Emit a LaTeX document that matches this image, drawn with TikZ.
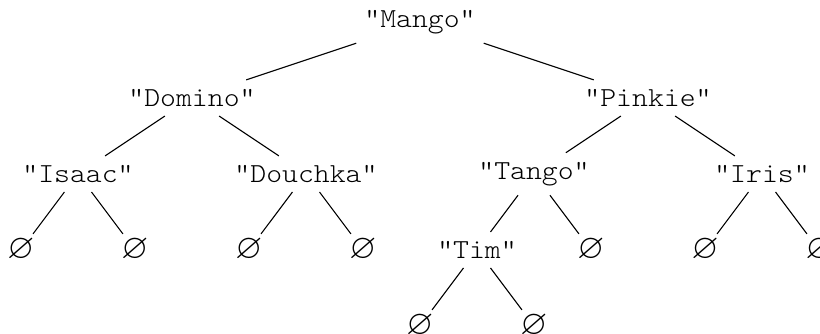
\documentclass[tikz,border=0pt]{standalone}
\usepackage{amssymb}
\usepackage{fontspec}
\setmonofont{Latin Modern Mono Light}[FakeStretch=1.1]
\tikzset{
  tkey/.style={font=\fontsize{10.3}{12}\ttfamily},
  tnil/.style={font=\fontsize{13}{15}\selectfont,inner sep=1.5pt},
  tedge/.style={thin,black},
}

\begin{document}
\begin{tikzpicture}
\useasboundingbox (-5.526,0.289) rectangle (5.263,-4.105);
% keys, one level per cm
\node[tkey] (mango) at (0,0) {"Mango"};
\node[tkey] (domino) at (-3,-1) {"Domino"};
\node[tkey] (pinkie) at (3,-1) {"Pinkie"};
\node[tkey] (isaac) at (-4.5,-2) {"Isaac"};
\node[tkey] (douchka) at (-1.5,-2) {"Douchka"};
\node[tkey] (tango) at (1.5,-2) {"Tango"};
\node[tkey] (iris) at (4.5,-2) {"Iris"};
\node[tkey] (tim) at (0.75,-3) {"Tim"};
% empty subtrees
\foreach \n/\x/\y in {n1/-5.25/-3,n2/-3.75/-3,n3/-2.25/-3,n4/-0.75/-3,
                      n5/2.25/-3,n6/3.75/-3,n7/5.25/-3,n8/0/-4,n9/1.5/-4}
  \node[tnil] (\n) at (\x,\y) {$\varnothing$};
% parent -- child
\foreach \p/\c in {mango/domino,mango/pinkie,domino/isaac,domino/douchka,
                   pinkie/tango,pinkie/iris,isaac/n1,isaac/n2,douchka/n3,
                   douchka/n4,tango/tim,tango/n5,iris/n6,iris/n7,tim/n8,tim/n9}
  \draw[tedge] (\p) -- (\c);
\end{tikzpicture}
\end{document}
